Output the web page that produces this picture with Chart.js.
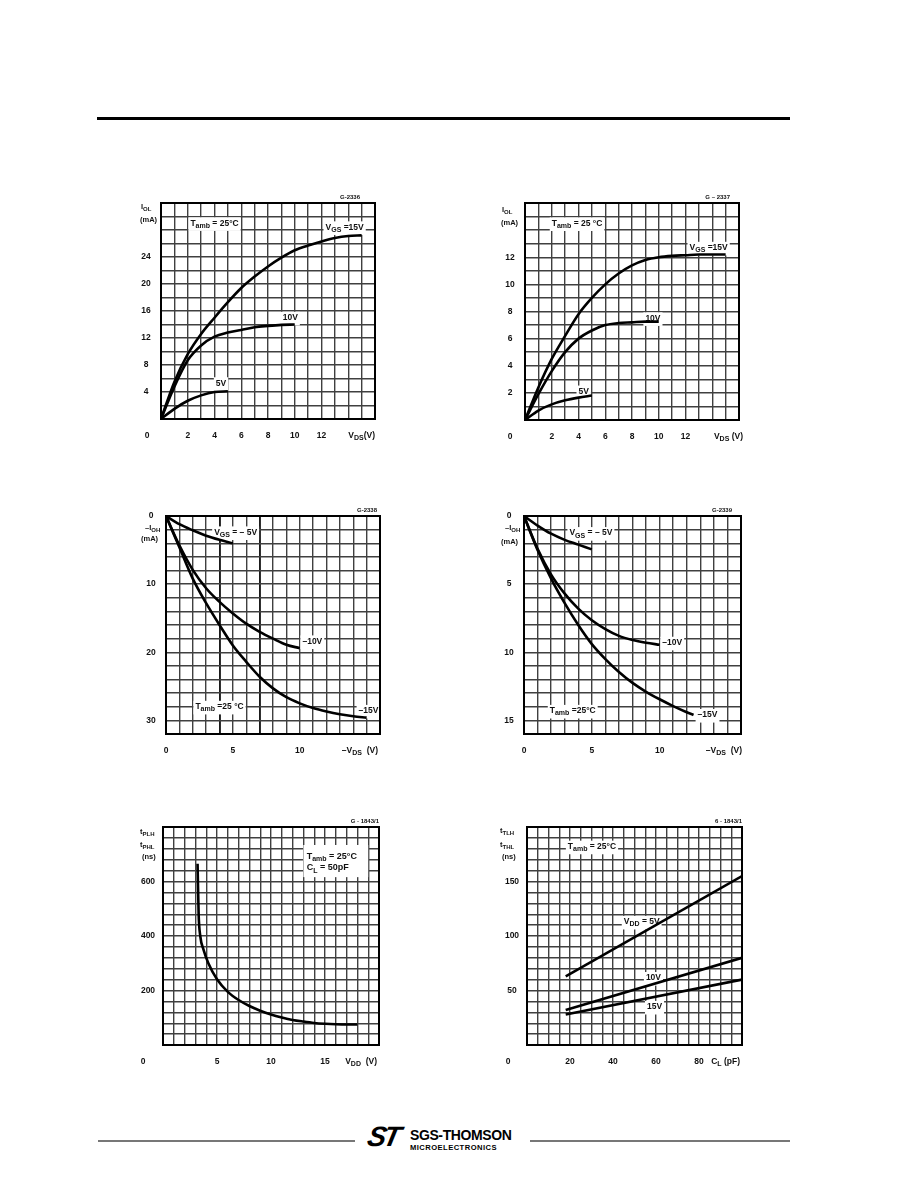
<!DOCTYPE html>
<html>
<head>
<meta charset="utf-8">
<script src="https://cdn.jsdelivr.net/npm/chart.js@4.4.1/dist/chart.umd.min.js"></script>
<style>
  body { margin: 0; background: #fff; }
  #page { position: relative; width: 918px; height: 1188px; background: #fff; overflow: hidden;
          font-family: "Liberation Sans", Arial, sans-serif; }
  canvas { position: absolute; }
  .rule { position: absolute; left: 97px; top: 117px; width: 693px; height: 3px; background: #000; }
  .foot { position: absolute; top: 1140px; height: 1.5px; background: #777; }
  .st { position: absolute; left: 368px; top: 1121px; font: italic 900 28px "Liberation Sans", Arial, sans-serif;
        letter-spacing: -3px; color: #000; transform: skewX(-12deg); }
  .brand { position: absolute; left: 410px; top: 1127px; font: 900 14px "Liberation Sans", Arial, sans-serif;
           letter-spacing: -0.4px; color: #000; }
  .brand2 { position: absolute; left: 410px; top: 1143px; font: bold 7.6px "Liberation Sans", Arial, sans-serif;
            letter-spacing: 0.45px; color: #000; }
</style>
</head>
<body>
<div id="page">
  <div class="rule"></div>
  <canvas id="c1"></canvas>
  <canvas id="c2"></canvas>
  <canvas id="c3"></canvas>
  <canvas id="c4"></canvas>
  <canvas id="c5"></canvas>
  <canvas id="c6"></canvas>
  <div class="foot" style="left:98px;width:257px"></div>
  <div class="foot" style="left:530px;width:260px"></div>
  <div class="st">ST</div>
  <div class="brand">SGS-THOMSON</div>
  <div class="brand2">MICROELECTRONICS</div>
</div>
<script>
// ---------- data ----------

// chart 1: I_OL vs V_DS
const vds1_15 = [0, 1, 2, 3, 4, 5, 6, 7, 8, 9, 10, 11, 12, 13, 14, 15];
const iol1_15 = [0, 5.5, 9.6, 12.6, 15.0, 17.3, 19.4, 21.1, 22.6, 23.9, 25.0, 25.7, 26.3, 26.8, 27.1, 27.2];
const vds1_10 = [0, 1, 2, 3, 4, 5, 6, 7, 8, 9, 10];
const iol1_10 = [0, 4.8, 8.7, 10.9, 12.2, 12.8, 13.2, 13.6, 13.8, 13.95, 14.0];
const vds1_5 = [0, 1, 2, 3, 4, 5];
const iol1_5 = [0, 1.5, 2.7, 3.5, 4.0, 4.1];

// chart 2: I_OL vs V_DS
const vds2_15 = [0, 1, 2, 3, 4, 5, 6, 7, 8, 9, 10, 11, 12, 13, 14, 15];
const iol2_15 = [0, 2.4, 4.5, 6.2, 7.8, 9.0, 10.0, 10.8, 11.4, 11.8, 12.0, 12.1, 12.15, 12.2, 12.2, 12.2];
const vds2_10 = [0, 1, 2, 3, 4, 5, 6, 7, 8, 9, 10];
const iol2_10 = [0, 1.9, 3.6, 5.0, 6.0, 6.6, 7.0, 7.15, 7.2, 7.25, 7.25];
const vds2_5 = [0, 1, 2, 3, 4, 5];
const iol2_5 = [0, 0.7, 1.15, 1.45, 1.65, 1.8];

// chart 3: -I_OH vs -V_DS
const vds3_5 = [0, 1, 2, 3, 4, 5];
const ioh3_5 = [0, 1.2, 2.1, 2.9, 3.5, 4.0];
const vds3_10 = [0, 1, 2, 3, 4, 5, 6, 7, 8, 9, 10];
const ioh3_10 = [0, 4.3, 7.9, 10.6, 12.6, 14.3, 15.8, 17.0, 18.0, 18.9, 19.4];
const vds3_15 = [0, 1, 2, 3, 4, 5, 6, 7, 8, 9, 10, 11, 12, 13, 14, 15];
const ioh3_15 = [0, 4.6, 9.2, 12.8, 16.0, 19.0, 21.4, 23.6, 25.3, 26.6, 27.5, 28.2, 28.7, 29.1, 29.4, 29.6];

// chart 4: -I_OH vs -V_DS
const vds4_5 = [0, 1, 2, 3, 4, 5];
const ioh4_5 = [0, 0.7, 1.3, 1.75, 2.1, 2.45];
const vds4_10 = [0, 1, 2, 3, 4, 5, 6, 7, 8, 9, 10];
const ioh4_10 = [0, 2.4, 4.3, 5.7, 6.8, 7.65, 8.3, 8.8, 9.1, 9.3, 9.45];
const vds4_15 = [0, 1, 2, 3, 4, 5, 6, 7, 8, 9, 10, 11, 12, 12.5];
const ioh4_15 = [0, 2.5, 4.6, 6.4, 8.0, 9.4, 10.5, 11.45, 12.25, 12.9, 13.45, 13.95, 14.4, 14.6];

// chart 5: propagation delay vs V_DD
const vdd5 = [3.2, 3.3, 3.45, 3.75, 4.2, 5, 6, 7, 8, 9, 10, 11, 12, 13, 14, 15, 16, 17, 18];
const tp5 = [665, 480, 400, 350, 300, 241, 195, 165, 143, 126, 112, 101, 92, 86, 81, 78, 76, 75, 75];

// chart 6: transition time vs C_L
const cl6 = [18, 100];
const tt6_5 = [63, 155];
const tt6_10 = [32, 80];
const tt6_15 = [28, 60];

// tick labels
const xTicks1 = [2, 4, 6, 8, 10, 12], yTicks1 = [4, 8, 12, 16, 20, 24];
const xTicks2 = [2, 4, 6, 8, 10, 12], yTicks2 = [2, 4, 6, 8, 10, 12];
const xTicks3 = [0, 5, 10], yTicks3 = [0, 10, 20, 30];
const xTicks4 = [0, 5, 10], yTicks4 = [0, 5, 10, 15];
const xTicks5 = [5, 10, 15], yTicks5 = [200, 400, 600];
const xTicks6 = [20, 40, 60, 80], yTicks6 = [50, 100, 150];

// ---------- drawing helpers ----------
const FONT = '"Liberation Sans", Arial, sans-serif';
const GRID = '#404040';

function parseRich(str) {
  const parts = [];
  const re = /_\{([^}]*)\}/g;
  let last = 0, m;
  while ((m = re.exec(str))) {
    if (m.index > last) parts.push({ t: str.slice(last, m.index), sub: false });
    parts.push({ t: m[1], sub: true });
    last = re.lastIndex;
  }
  if (last < str.length) parts.push({ t: str.slice(last), sub: false });
  return parts;
}

function drawRich(ctx, str, x, y, opts = {}) {
  const size = opts.size || 8.5;
  const main = `bold ${size}px ${FONT}`;
  const sub = `bold ${Math.round(size * 0.8)}px ${FONT}`;
  const parts = parseRich(str);
  let w = 0;
  parts.forEach(p => { ctx.font = p.sub ? sub : main; p.w = ctx.measureText(p.t).width; w += p.w; });
  let cx = x;
  if (opts.align === 'right') cx = x - w;
  else if (opts.align === 'center') cx = x - w / 2;
  if (opts.box) {
    ctx.fillStyle = '#fff';
    ctx.fillRect(cx - 2, y - size * 0.7, w + 4, size * 1.6);
  }
  ctx.fillStyle = '#111';
  ctx.textAlign = 'left';
  ctx.textBaseline = 'middle';
  parts.forEach(p => {
    ctx.font = p.sub ? sub : main;
    ctx.fillText(p.t, cx, p.sub ? y + size * 0.3 : y);
    cx += p.w;
  });
}

function series(xs, ys, straight) {
  return {
    data: xs.map((v, i) => ({ x: v, y: ys[i] })),
    borderColor: '#000',
    borderWidth: 2.6,
    pointRadius: 0,
    fill: false,
    tension: straight ? 0 : 0.4,
    cubicInterpolationMode: straight ? 'default' : 'monotone'
  };
}

function labelPlugin(cfg) {
  return {
    id: 'labels',
    beforeDatasetsDraw(chart) {
      const ctx = chart.ctx, xs = chart.scales.x, ys = chart.scales.y;
      ctx.save();
      if (cfg.box) {
        const [x0, y0, x1, y1] = cfg.box;
        const px0 = xs.getPixelForValue(x0), py0 = ys.getPixelForValue(y0);
        ctx.fillStyle = '#fff';
        ctx.fillRect(px0, py0, xs.getPixelForValue(x1) - px0, ys.getPixelForValue(y1) - py0);
      }
      cfg.notes.forEach(n => {
        drawRich(ctx, n.t, xs.getPixelForValue(n.x), ys.getPixelForValue(n.y),
          { box: !cfg.box, size: n.size || 8.5 });
      });
      ctx.restore();
    },
    afterDraw(chart) {
      const ctx = chart.ctx, a = chart.chartArea, xs = chart.scales.x, ys = chart.scales.y;
      ctx.save();
      ctx.strokeStyle = '#000';
      ctx.lineWidth = 2;
      ctx.strokeRect(a.left, a.top, a.right - a.left, a.bottom - a.top);
      cfg.xTicks.forEach(v => drawRich(ctx, String(v), xs.getPixelForValue(v), a.bottom + 17, { align: 'center' }));
      cfg.yTicks.forEach(v => drawRich(ctx, String(v), a.left - 15, ys.getPixelForValue(v), { align: 'center' }));
      if (cfg.corner) drawRich(ctx, '0', a.left + cfg.corner, a.bottom + 17, { align: 'center' });
      cfg.yTitle.forEach(([t, dx, dy]) => drawRich(ctx, t, a.left + dx, a.top + dy, { size: 7.5 }));
      drawRich(ctx, cfg.xTitle[0], a.right + cfg.xTitle[1], a.bottom + 17, { align: 'right' });
      drawRich(ctx, cfg.code[0], a.right + cfg.code[1], a.top - 6, { align: 'right', size: 6 });
      ctx.restore();
    }
  };
}

function makeChart(id, cfg) {
  const pad = { left: 60, top: 30, right: 24, bottom: 32 };
  const [left, top, w, h] = cfg.area;
  const el = document.getElementById(id);
  el.width = w + pad.left + pad.right;
  el.height = h + pad.top + pad.bottom;
  el.style.left = (left - pad.left) + 'px';
  el.style.top = (top - pad.top) + 'px';
  const heavy = cfg.heavyX || [];
  new Chart(el, {
    type: 'line',
    data: { datasets: cfg.series },
    options: {
      responsive: false,
      animation: false,
      devicePixelRatio: 1,
      layout: { padding: pad },
      plugins: { legend: { display: false }, tooltip: { enabled: false } },
      scales: {
        x: {
          type: 'linear', min: cfg.x[0], max: cfg.x[1],
          ticks: { display: false, stepSize: cfg.x[2], maxTicksLimit: 200 },
          grid: {
            color: c => heavy.includes(c.tick && c.tick.value) ? '#1a1a1a' : GRID,
            lineWidth: c => heavy.includes(c.tick && c.tick.value) ? 1.9 : 1.4,
            drawTicks: false
          },
          border: { display: true, color: '#000', width: 2 }
        },
        y: {
          type: 'linear', min: cfg.y[0], max: cfg.y[1], reverse: !!cfg.reverse,
          ticks: { display: false, stepSize: cfg.y[2], maxTicksLimit: 200 },
          grid: { color: GRID, lineWidth: 1.4, drawTicks: false },
          border: { display: true, color: '#000', width: 2 }
        }
      }
    },
    plugins: [labelPlugin(cfg)]
  });
}

// ---------- the six charts ----------
makeChart('c1', {
  area: [161, 203, 214, 216], x: [0, 16, 1], y: [0, 32, 2],
  series: [series(vds1_15, iol1_15), series(vds1_10, iol1_10), series(vds1_5, iol1_5)],
  xTicks: xTicks1, yTicks: yTicks1, corner: -14,
  yTitle: [['I_{OL}', -20, 4], ['(mA)', -21, 17]],
  xTitle: ['V_{DS}(V)', 0], code: ['G-2336', -15],
  notes: [
    { t: 'T_{amb} = 25°C', x: 2.2, y: 29 },
    { t: 'V_{GS} =15V', x: 12.3, y: 28.4 },
    { t: '10V', x: 9.1, y: 15.0 },
    { t: '5V', x: 4.1, y: 5.3 }
  ]
});

makeChart('c2', {
  area: [525, 203, 214, 217], x: [0, 16, 1], y: [0, 16, 1],
  series: [series(vds2_15, iol2_15), series(vds2_10, iol2_10), series(vds2_5, iol2_5)],
  xTicks: xTicks2, yTicks: yTicks2, corner: -15,
  yTitle: [['I_{OL}', -23, 7], ['(mA)', -24, 20]],
  xTitle: ['V_{DS} (V)', 4], code: ['G – 2337', -9],
  notes: [
    { t: 'T_{amb} = 25 °C', x: 2.0, y: 14.5 },
    { t: 'V_{GS} =15V', x: 12.3, y: 12.7 },
    { t: '10V', x: 9.0, y: 7.5 },
    { t: '5V', x: 4.0, y: 2.1 }
  ]
});

makeChart('c3', {
  area: [166, 516, 214, 218], x: [0, 16, 1], y: [0, 32, 2], reverse: true, heavyX: [4, 7],
  series: [series(vds3_5, ioh3_5), series(vds3_10, ioh3_10), series(vds3_15, ioh3_15)],
  xTicks: xTicks3, yTicks: yTicks3,
  yTitle: [['–I_{OH}', -21, 12], ['(mA)', -25, 23]],
  xTitle: ['–V_{DS}  (V)', -2], code: ['G-2338', -3],
  notes: [
    { t: 'V_{GS} = – 5V', x: 3.6, y: 2.4 },
    { t: '–10V', x: 10.2, y: 18.4 },
    { t: '–15V', x: 14.4, y: 28.6 },
    { t: 'T_{amb} =25 °C', x: 2.2, y: 28.0 }
  ]
});

makeChart('c4', {
  area: [524, 516, 217, 218], x: [0, 16, 1], y: [0, 16, 1], reverse: true,
  series: [series(vds4_5, ioh4_5), series(vds4_10, ioh4_10), series(vds4_15, ioh4_15)],
  xTicks: xTicks4, yTicks: yTicks4,
  yTitle: [['–I_{OH}', -19, 12], ['(mA)', -23, 26]],
  xTitle: ['–V_{DS}  (V)', 1], code: ['G-2339', -9],
  notes: [
    { t: 'V_{GS} = – 5V', x: 3.35, y: 1.25 },
    { t: '–10V', x: 10.2, y: 9.3 },
    { t: '–15V', x: 12.8, y: 14.6 },
    { t: 'T_{amb} =25°C', x: 1.9, y: 14.3 }
  ]
});

makeChart('c5', {
  area: [163, 827, 216, 218], x: [0, 20, 1], y: [0, 800, 40],
  series: [series(vdd5, tp5)],
  xTicks: xTicks5, yTicks: yTicks5, corner: -20,
  yTitle: [['t_{PLH}', -23, 5], ['t_{PHL}', -23, 18], ['(ns)', -21, 30]],
  xTitle: ['V_{DD}  (V)', -2], code: ['G - 1843/1', 0],
  box: [13.0, 734, 19.0, 616],
  notes: [
    { t: 'T_{amb} = 25°C', x: 13.3, y: 693, size: 9 },
    { t: 'C_{L} = 50pF', x: 13.3, y: 650, size: 9 }
  ]
});

makeChart('c6', {
  area: [527, 827, 215, 218], x: [0, 100, 5], y: [0, 200, 10],
  series: [series(cl6, tt6_5, true), series(cl6, tt6_10, true), series(cl6, tt6_15, true)],
  xTicks: xTicks6, yTicks: yTicks6, corner: -19,
  yTitle: [['t_{TLH}', -27, 4], ['t_{THL}', -27, 18], ['(ns)', -25, 30]],
  xTitle: ['C_{L} (pF)', -2], code: ['6 - 1843/1', 0],
  notes: [
    { t: 'T_{amb} = 25°C', x: 19, y: 182 },
    { t: 'V_{DD} = 5V', x: 45, y: 113 },
    { t: '10V', x: 55.3, y: 61.5 },
    { t: '15V', x: 55.8, y: 35 }
  ]
});
</script>
</body>
</html>
